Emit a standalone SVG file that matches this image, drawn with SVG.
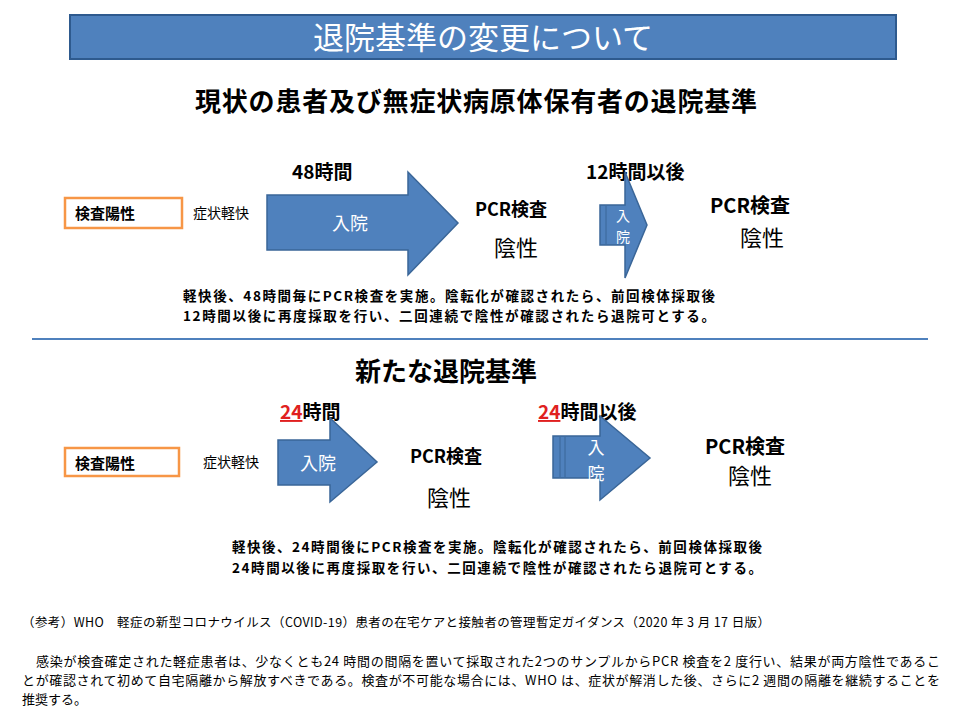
<svg xmlns="http://www.w3.org/2000/svg" width="958" height="717" viewBox="0 0 958 717">
<style>
text{font-family:"Noto Sans CJK JP","Noto Sans",sans-serif;fill:#000}
.b{font-weight:bold}
.arr{fill:#4f81bd;stroke:#3a6698;stroke-width:1.5}
.box{fill:#fff;stroke:#f79646;stroke-width:2.5}
</style>
<rect width="958" height="717" fill="#fff"/>
<g id="title"><rect x="70" y="15" width="826" height="44" fill="#4f81bd" stroke="#2e5a8e" stroke-width="2"/><text x="483" y="49" font-size="31" text-anchor="middle" style="fill:#fff">退院基準の変更について</text></g>
<text x="476" y="111" font-size="26" class="b" text-anchor="middle" textLength="562">現状の患者及び無症状病原体保有者の退院基準</text>
<g id="n1"><rect x="65" y="198" width="117" height="30" class="box"/><text x="75" y="219" font-size="15" class="b">検査陽性</text></g>
<text x="193" y="218" font-size="14">症状軽快</text>
<text x="292" y="179" font-size="19" class="b">48時間</text>
<g id="a1"><path class="arr" d="M267 195H408V172L458 223L408 275V250H267Z"/><text x="350" y="230" font-size="18" text-anchor="middle" style="fill:#fff">入院</text></g>
<g id="p1"><text x="475" y="216" font-size="18" class="b">PCR検査</text><text x="494" y="256" font-size="22">陰性</text></g>
<text x="586" y="179" font-size="19" class="b">12時間以後</text>
<g id="a2"><path class="arr" d="M600 205H625V172L647 225L625 278V245H600Z"/><line x1="606" y1="206" x2="606" y2="244" stroke="#3a6698"/><text x="623" y="221" font-size="14" text-anchor="middle" style="fill:#fff">入</text><text x="623" y="242" font-size="14" text-anchor="middle" style="fill:#fff">院</text></g>
<g id="p2"><text x="710" y="213" font-size="20" class="b">PCR検査</text><text x="740" y="246" font-size="22">陰性</text></g>
<text x="449" y="301" font-size="13.5" class="b" text-anchor="middle" textLength="532">軽快後、48時間毎にPCR検査を実施。陰転化が確認されたら、前回検体採取後</text>
<text x="449" y="321" font-size="13.5" class="b" text-anchor="middle" textLength="532">12時間以後に再度採取を行い、二回連続で陰性が確認されたら退院可とする。</text>
<line x1="32" y1="339" x2="928" y2="339" stroke="#4f81bd" stroke-width="2"/>
<text x="446" y="381" font-size="26" class="b" text-anchor="middle">新たな退院基準</text>
<g id="n2"><rect x="65" y="448" width="114" height="28" class="box"/><text x="75" y="469" font-size="15" class="b">検査陽性</text></g>
<text x="203" y="467" font-size="14">症状軽快</text>
<text x="280" y="419" font-size="19" class="b"><tspan style="fill:#e02020;text-decoration:underline">24</tspan>時間</text>
<g id="a3"><path class="arr" d="M278 440H330V418L377 462L330 502V485H278Z"/><text x="318" y="470" font-size="18" text-anchor="middle" style="fill:#fff">入院</text></g>
<g id="p3"><text x="410" y="463" font-size="18" class="b">PCR検査</text><text x="427" y="506" font-size="22">陰性</text></g>
<text x="538" y="419" font-size="19" class="b"><tspan style="fill:#e02020;text-decoration:underline">24</tspan>時間以後</text>
<g id="a4"><path class="arr" d="M553 436H600V416L650 458L600 500V478H553Z"/><line x1="560" y1="437" x2="560" y2="477" stroke="#3a6698"/><line x1="565" y1="437" x2="565" y2="477" stroke="#3a6698"/><text x="596" y="454" font-size="17" text-anchor="middle" style="fill:#fff">入</text><text x="596" y="480" font-size="17" text-anchor="middle" style="fill:#fff">院</text></g>
<g id="p4"><text x="705" y="454" font-size="20" class="b">PCR検査</text><text x="728" y="484" font-size="22">陰性</text></g>
<text x="497" y="552" font-size="13.5" class="b" text-anchor="middle" textLength="530">軽快後、24時間後にPCR検査を実施。陰転化が確認されたら、前回検体採取後</text>
<text x="497" y="573" font-size="13.5" class="b" text-anchor="middle" textLength="530">24時間以後に再度採取を行い、二回連続で陰性が確認されたら退院可とする。</text>
<text x="22" y="627" font-size="12.5" textLength="748">（参考）WHO　軽症の新型コロナウイルス（COVID-19）患者の在宅ケアと接触者の管理暫定ガイダンス（2020 年 3 月 17 日版）</text>
<text x="36" y="666" font-size="13" textLength="904">感染が検査確定された軽症患者は、少なくとも24 時間の間隔を置いて採取された2つのサンプルからPCR 検査を2 度行い、結果が両方陰性であるこ</text>
<text x="22" y="685" font-size="13" textLength="918">とが確認されて初めて自宅隔離から解放すべきである。検査が不可能な場合には、WHO は、症状が解消した後、さらに2 週間の隔離を継続することを</text>
<text x="22" y="704" font-size="13">推奨する。</text>
</svg>
